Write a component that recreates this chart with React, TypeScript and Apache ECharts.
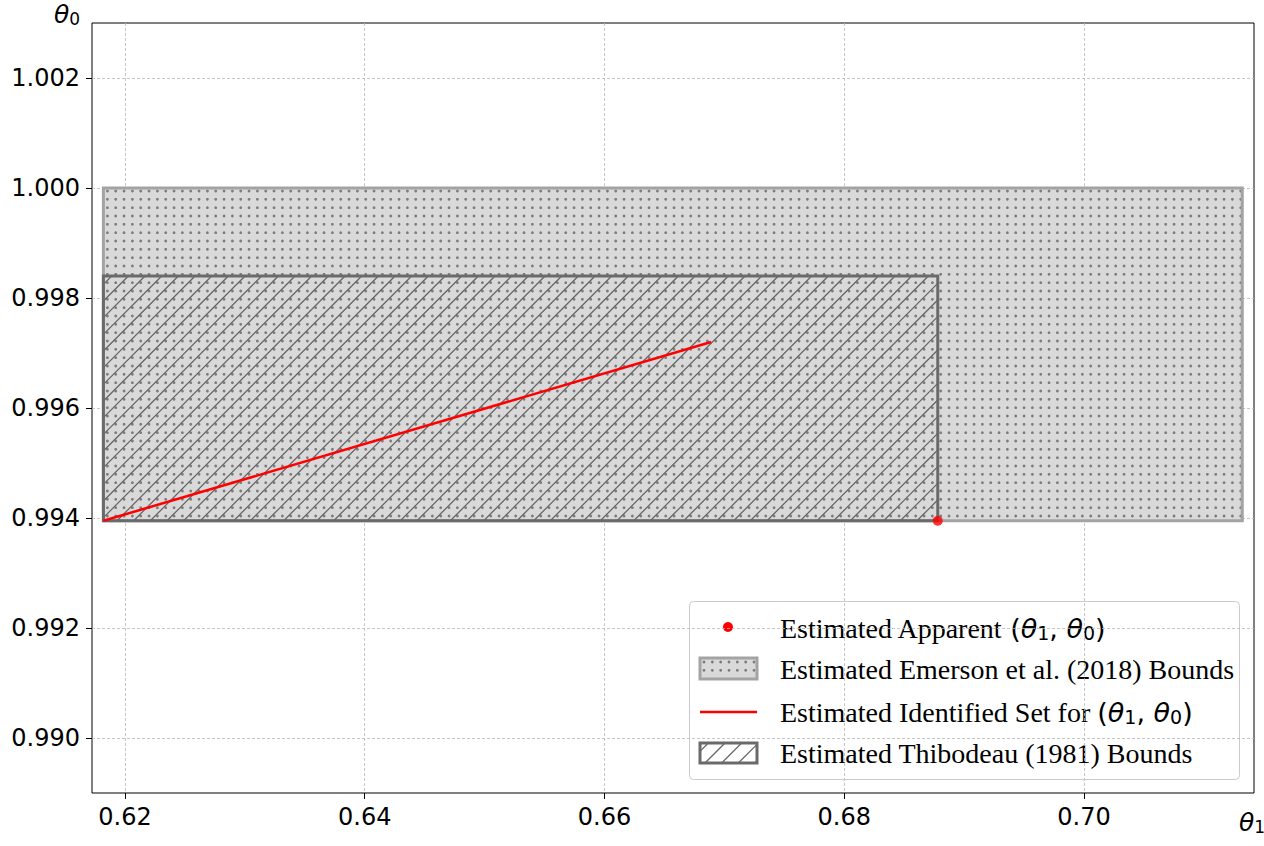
import React, { useEffect, useRef } from "react";
import * as echarts from "echarts";

const xTicks = [0.62, 0.64, 0.66, 0.68, 0.7];
const yTicks = [0.99, 0.992, 0.994, 0.996, 0.998, 1.0, 1.002];
const xRange = [0.61725, 0.71418];
const yRange = [0.989, 1.003];
// [x0, y0, x1, y1]
const emersonBounds = [0.6182, 0.99395, 0.7132, 1.0];
const thibodeauBounds = [0.6182, 0.99395, 0.6878, 0.9984];
const identifiedSetX = [0.6182, 0.6689];
const identifiedSetY = [0.99395, 0.9972];
const apparentPoint = [0.6878, 0.99395];
const legendLabels = [
  "Estimated Apparent ",
  "Estimated Emerson et al. (2018) Bounds",
  "Estimated Identified Set for ",
  "Estimated Thibodeau (1981) Bounds",
];

const FILL = "#d9d9d9";
const EM_EDGE = "#a3a3a3";
const DOT = "#7c7c7c";
const TH_EDGE = "#6a6a6a";
const HATCH = "#626262";

function dots(x0: number, y0: number, x1: number, y1: number, ox: number, oy: number) {
  const out: any[] = [];
  const step = 100 / 12;
  for (let y = y0 + oy; y < y1 - 1; y += step) {
    for (let x = x0 + ox; x < x1 - 1; x += step) {
      out.push({ type: "circle", silent: true, shape: { cx: x, cy: y, r: 1.4 }, style: { fill: DOT } });
    }
  }
  return out;
}

function hatch(x0: number, y0: number, x1: number, y1: number, step: number) {
  const out: any[] = [];
  for (let c = x0 + y0 + step / 2; c < x1 + y1; c += step) {
    const xa = Math.max(x0, c - y1);
    const xb = Math.min(x1, c - y0);
    if (xb <= xa) continue;
    out.push({
      type: "line",
      silent: true,
      shape: { x1: xa, y1: c - xa, x2: xb, y2: c - xb },
      style: { stroke: HATCH, lineWidth: 1.2 },
    });
  }
  return out;
}

function renderDots(_params: any, api: any) {
  const p0 = api.coord([api.value(0), api.value(3)]);
  const p1 = api.coord([api.value(2), api.value(1)]);
  const x0 = p0[0], y0 = p0[1], x1 = p1[0], y1 = p1[1];
  const children: any[] = [
    { type: "rect", shape: { x: x0, y: y0, width: x1 - x0, height: y1 - y0 }, style: { fill: FILL } },
    ...dots(x0, y0, x1, y1, 4, 3),
    {
      type: "rect",
      shape: { x: x0, y: y0, width: x1 - x0, height: y1 - y0 },
      style: { fill: "none", stroke: EM_EDGE, lineWidth: 3 },
    },
  ];
  return { type: "group", children };
}

function renderHatch(_params: any, api: any) {
  const p0 = api.coord([api.value(0), api.value(3)]);
  const p1 = api.coord([api.value(2), api.value(1)]);
  const x0 = p0[0], y0 = p0[1], x1 = p1[0], y1 = p1[1];
  const children: any[] = [
    ...hatch(x0, y0, x1, y1, 100 / 6),
    {
      type: "rect",
      shape: { x: x0, y: y0, width: x1 - x0, height: y1 - y0 },
      style: { fill: "none", stroke: TH_EDGE, lineWidth: 3 },
    },
  ];
  return { type: "group", children };
}

const serif = "'Liberation Serif', 'Times New Roman', serif";
const sans = "'DejaVu Sans', sans-serif";

function mathRich(mainSize: number, subSize: number, lh: number, drop: number, serifSize: number) {
  return {
    s: { fontFamily: serif, fontSize: serifSize, lineHeight: lh, fill: "#000" },
    i: { fontFamily: sans, fontStyle: "italic", fontSize: mainSize, lineHeight: lh, fill: "#000" },
    m: { fontFamily: sans, fontSize: mainSize, lineHeight: lh, fill: "#000" },
    b: { fontFamily: sans, fontSize: subSize, lineHeight: lh - drop, padding: [drop, 0, 0, 0], fill: "#000" },
  };
}
const legendRich = mathRich(27, 19, 36, 10, 28);
const mathPair = "{m|(}{i|θ}{b|1}{m|, }{i|θ}{b|0}{m|)}";

function legendGraphic() {
  const lx = 700, lw = 57;
  const els: any[] = [
    {
      type: "rect",
      shape: { x: 689.5, y: 601.5, width: 550, height: 178, r: 4 },
      style: { fill: "rgba(255,255,255,0.85)", stroke: "#cccccc", lineWidth: 1 },
    },
    { type: "circle", shape: { cx: 728, cy: 627, r: 5 }, style: { fill: "#ff0000" } },
    { type: "rect", shape: { x: lx, y: 658, width: lw, height: 21 }, style: { fill: FILL } },
    ...dots(lx, 658, lx + lw, 679, 4, 4),
    { type: "rect", shape: { x: lx, y: 658, width: lw, height: 21 }, style: { fill: "none", stroke: EM_EDGE, lineWidth: 3 } },
    { type: "line", shape: { x1: lx, y1: 712, x2: lx + lw, y2: 712 }, style: { stroke: "#ff0000", lineWidth: 2.5 } },
    ...hatch(lx, 743, lx + lw, 763, 100 / 6),
    { type: "rect", shape: { x: lx, y: 743, width: lw, height: 20 }, style: { fill: "none", stroke: TH_EDGE, lineWidth: 3 } },
  ];
  const rows = [
    { y: 628, text: "{s|" + legendLabels[0] + "}" + mathPair },
    { y: 669, text: "{s|" + legendLabels[1] + "}" },
    { y: 712, text: "{s|" + legendLabels[2] + "}" + mathPair },
    { y: 753, text: "{s|" + legendLabels[3] + "}" },
  ];
  rows.forEach((r) =>
    els.push({
      type: "text",
      x: 780,
      y: r.y,
      style: { text: r.text, rich: legendRich, verticalAlign: "middle", align: "left" },
    })
  );
  const axisRich = mathRich(25, 17, 30, 9, 25);
  els.push({
    type: "text",
    x: 67,
    y: 14,
    style: { text: "{i|θ}{b|0}", rich: axisRich, align: "center", verticalAlign: "middle" },
  });
  els.push({
    type: "text",
    x: 1252,
    y: 822,
    style: { text: "{i|θ}{b|1}", rich: axisRich, align: "center", verticalAlign: "middle" },
  });
  return els;
}

export default function App() {
  const ref = useRef<HTMLDivElement>(null);
  useEffect(() => {
    if (!ref.current) return;
    const chart = echarts.init(ref.current, undefined, { renderer: "svg" });
    const axisFont = { fontFamily: sans, fontSize: 24, color: "#000" };
    const gridLine = { color: "#b8b8b8", type: [3, 2], width: 0.8 };
    chart.setOption({
      animation: false,
      backgroundColor: "#fff",
      grid: { left: 92, right: 10, top: 23, bottom: 53, show: true, borderColor: "#000", borderWidth: 1, containLabel: false },
      xAxis: {
        type: "value",
        min: xRange[0],
        max: xRange[1],
        axisLine: { show: false },
        axisTick: { show: true, length: 6, lineStyle: { color: "#000" }, customValues: xTicks },
        axisLabel: { ...axisFont, margin: 12, customValues: xTicks, formatter: (v: number) => v.toFixed(2) },
        splitLine: { show: true, customValues: xTicks, lineStyle: gridLine },
      },
      yAxis: {
        type: "value",
        min: yRange[0],
        max: yRange[1],
        axisLine: { show: false },
        axisTick: { show: true, length: 6, lineStyle: { color: "#000" }, customValues: yTicks },
        axisLabel: { ...axisFont, margin: 12, customValues: yTicks, formatter: (v: number) => v.toFixed(3) },
        splitLine: { show: true, customValues: yTicks, lineStyle: gridLine },
      },
      series: [
        {
          type: "custom",
          renderItem: renderDots,
          data: [emersonBounds],
          encode: { x: [0, 2], y: [1, 3] },
          clip: true,
          silent: true,
          z: 1,
        },
        {
          type: "custom",
          renderItem: renderHatch,
          data: [thibodeauBounds],
          encode: { x: [0, 2], y: [1, 3] },
          clip: true,
          silent: true,
          z: 2,
        },
        {
          type: "line",
          data: identifiedSetX.map((x, i) => [x, identifiedSetY[i]]),
          showSymbol: false,
          lineStyle: { color: "#ff0000", width: 2.5 },
          z: 3,
          silent: true,
        },
        {
          type: "scatter",
          data: [apparentPoint],
          symbolSize: 10,
          itemStyle: { color: "#ff0000" },
          z: 4,
          silent: true,
        },
      ],
      graphic: legendGraphic(),
    });
    return () => chart.dispose();
  }, []);
  return <div ref={ref} style={{ position: "absolute", left: 0, top: 0, width: 1264, height: 846 }} />;
}
